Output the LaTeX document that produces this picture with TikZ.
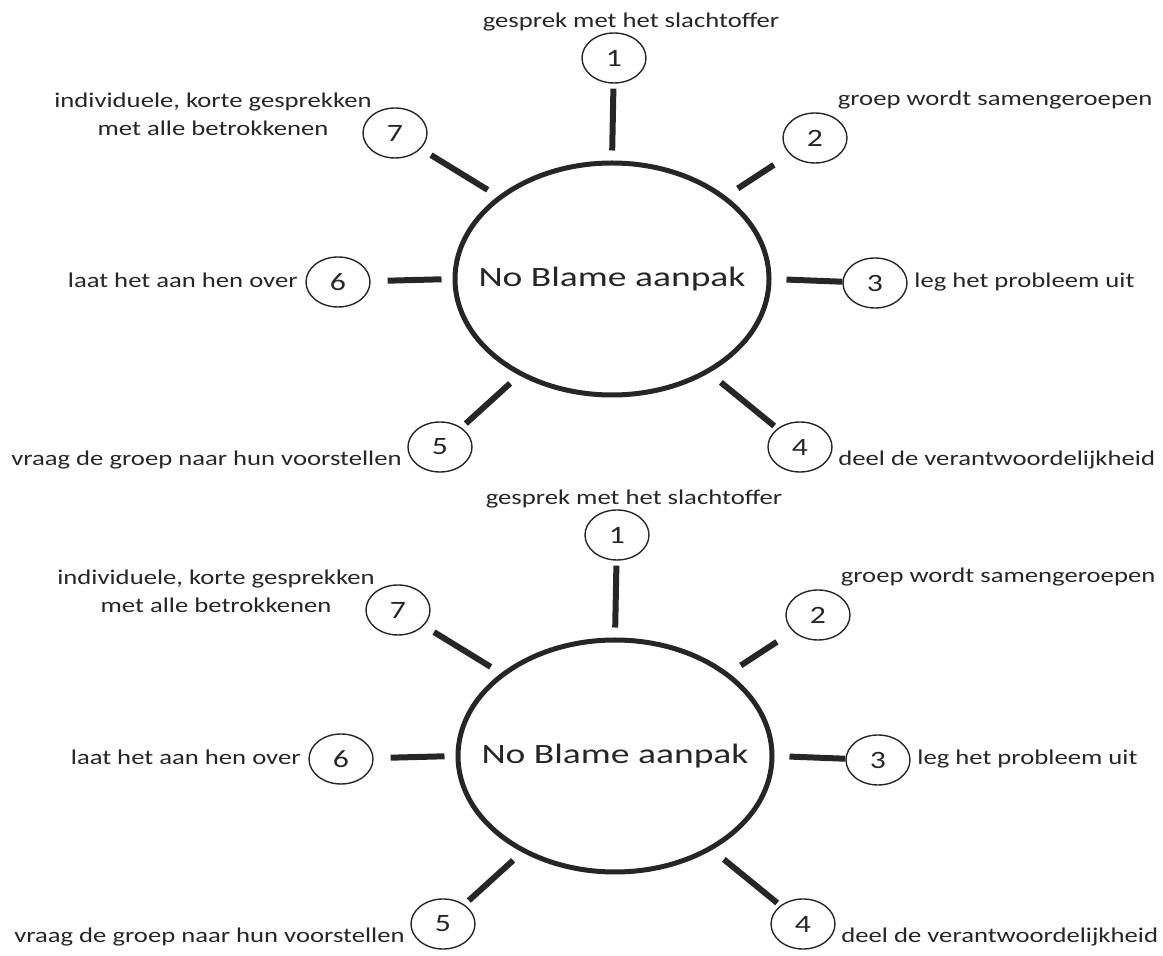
\documentclass[tikz,border=0pt]{standalone}
\usepackage{fontspec}
\setmainfont{Carlito}[FakeStretch=1.27]
\newfontfamily\hubfont{Carlito}[FakeStretch=1.34]
\usetikzlibrary{shapes.geometric}

\begin{document}
\begin{tikzpicture}[x=0.5pt,y=-0.5pt,
    hub/.style={ellipse,draw=black!85,line width=2.5pt,minimum width=157pt,minimum height=116pt,
      inner sep=0pt,font=\hubfont\fontsize{14}{16}\selectfont,text=black!85},
    num/.style={ellipse,draw=black!85,line width=0.7pt,minimum width=32pt,minimum height=25pt,
      inner sep=0pt,font=\fontsize{12.5}{14}\selectfont,text=black!85},
    lbl/.style={font=\fontsize{10.5}{14}\selectfont,text=black!85,inner sep=0pt},
    spoke/.style={line width=3pt,draw=black!85}]
  \useasboundingbox (0,0) rectangle (1163,956);
  \foreach \d/\dx/\dy in {a/0/0,b/3/477}{
    \begin{scope}[shift={(\dx,\dy)}]
      % centre and numbered steps
      \node[hub] (hub\d) at (612,279) {\makebox[0pt]{No Blame aanpak}};
      \node[num] (n1\d) at (614,58) {1};
      \node[num] (n2\d) at (815,138) {2};
      \node[num] (n3\d) at (875,283) {3};
      \node[num] (n4\d) at (800,447) {4};
      \node[num] (n5\d) at (440,447) {5};
      \node[num] (n6\d) at (338,282) {6};
      \node[num] (n7\d) at (395,133) {7};
      % texts
      \node[lbl] (t1\d) at (631,22) {gesprek met het slachtoffer};
      \node[lbl] (t2\d) at (995,100) {groep wordt samengeroepen};
      \node[lbl,anchor=west] (t3\d) at (914,282) {leg het probleem uit};
      \node[lbl,anchor=west] (t4\d) at (838,460) {deel de verantwoordelijkheid};
      \node[lbl,anchor=east] (t5\d) at (402,460) {vraag de groep naar hun voorstellen};
      \node[lbl,anchor=east] (t6\d) at (298,280) {laat het aan hen over};
      \node[lbl,align=center] (t7\d) at (213,114) {individuele, korte gesprekken\\met alle betrokkenen};
      % spokes
      \draw[spoke,shorten <=5pt,shorten >=2.5pt] (hub\d.90) -- (n1\d);
      \draw[spoke,shorten <=7pt,shorten >=9.5pt] (hub\d.36) -- (n2\d);
      \draw[spoke,shorten <=7.5pt] (hub\d.0) -- (n3\d);
      \draw[spoke,shorten <=7.5pt,shorten >=2pt] (hub\d.-44) -- (n4\d);
      \draw[spoke,shorten <=6pt,shorten >=3pt] (hub\d.-134) -- (n5\d);
      \draw[spoke,shorten <=5.5pt,shorten >=8.5pt] (hub\d.180) -- (n6\d);
      \draw[spoke,shorten <=6pt,shorten >=6pt] (hub\d.144) -- (n7\d);
    \end{scope}
  }
\end{tikzpicture}
\end{document}
